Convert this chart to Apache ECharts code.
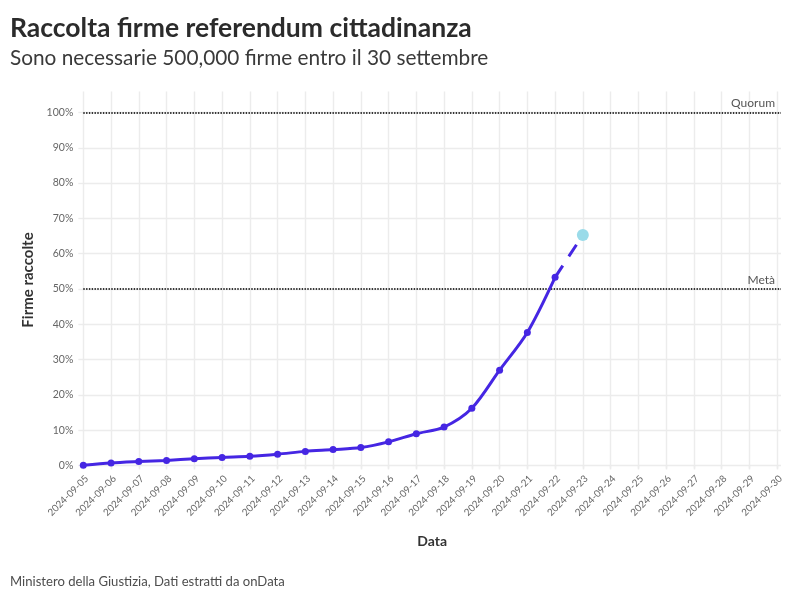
<!DOCTYPE html>
<html><head><meta charset="utf-8">
<style>html,body{margin:0;padding:0;background:#fff}#c{width:800px;height:600px}</style>
<script src="https://cdn.jsdelivr.net/npm/echarts@6/dist/echarts.min.js"></script>
</head><body><div id="c"></div>
<script>
const titleText = 'Raccolta firme referendum cittadinanza';
const subtitleText = 'Sono necessarie 500,000 firme entro il 30 settembre';
const captionText = 'Ministero della Giustizia, Dati estratti da onData';
const dates = ['2024-09-05','2024-09-06','2024-09-07','2024-09-08','2024-09-09','2024-09-10','2024-09-11','2024-09-12','2024-09-13','2024-09-14','2024-09-15','2024-09-16','2024-09-17','2024-09-18','2024-09-19','2024-09-20','2024-09-21','2024-09-22','2024-09-23','2024-09-24','2024-09-25','2024-09-26','2024-09-27','2024-09-28','2024-09-29','2024-09-30'];
const collected = [0.1,0.7,1.1,1.45,1.9,2.3,2.6,3.2,4.0,4.5,5.1,6.7,9.0,10.9,16.2,27.0,37.7,53.3];
const projected = [53.3,65.3];
const yTicks = [0,10,20,30,40,50,60,70,80,90,100];
const refLines = [{name:'Metà',value:50},{name:'Quorum',value:100}];
const font = 'Lato';
const grid = '#ececec';
const chart = echarts.init(document.getElementById('c'));
const dayIndex = dates.map((d,i)=>i);
chart.setOption({
  animation:false,
  backgroundColor:'#fff',
  textStyle:{fontFamily:font},
  title:[
    {text:titleText,left:5,top:10,textStyle:{fontFamily:font,fontSize:26.5,fontWeight:'bold',color:'#2b2b2b'}},
    {text:subtitleText,left:5,top:43,textStyle:{fontFamily:font,fontSize:20.8,fontWeight:'normal',color:'#3a3a3a'}},
    {text:captionText,left:5,top:570,textStyle:{fontFamily:font,fontSize:13.1,fontWeight:'normal',color:'#4d4d4d'}}
  ],
  grid:{left:83.3,top:91.5,width:697.7,height:377,containLabel:false},
  xAxis:{
    type:'value',min:0,max:25.14,
    name:'Data',nameLocation:'middle',nameGap:66,
    nameTextStyle:{fontFamily:font,fontSize:14,fontWeight:'bold',color:'#333'},
    axisLine:{show:false},
    axisTick:{show:true,length:4,lineStyle:{color:grid,width:1.4},customValues:dayIndex},
    splitLine:{show:true,lineStyle:{color:grid,width:1.4}},
    minorSplitLine:{show:false},
    axisLabel:{rotate:45,fontSize:9.8,color:'#666',margin:5,verticalAlign:'top',customValues:dayIndex,
      formatter:v=>dates[v]||''}
  },
  yAxis:{
    type:'value',min:-0.85,max:105.95,
    name:'Firme raccolte',nameLocation:'middle',nameGap:47,
    nameTextStyle:{fontFamily:font,fontSize:15,fontWeight:'bold',color:'#333'},
    axisLine:{show:false},
    axisTick:{show:true,length:5,lineStyle:{color:grid,width:1.4},customValues:yTicks},
    splitLine:{show:true,lineStyle:{color:grid,width:1.4}},
    axisLabel:{fontSize:10.5,color:'#666',margin:10,customValues:yTicks,formatter:v=>v+'%'}
  },
  series:[
    {type:'line',name:'Firme',data:collected.map((v,i)=>[i,v]),smooth:0.3,clip:false,
     symbol:'circle',symbolSize:7,z:5,
     lineStyle:{color:'#4526e3',width:3},itemStyle:{color:'#4526e3'},
     markLine:{silent:true,symbol:'none',animation:false,
       lineStyle:{color:'#333',type:[1.4,1.4],width:2,opacity:1},
       label:{position:'insideEndTop',fontFamily:font,fontSize:12,color:'#555',distance:[6,3],formatter:'{b}'},
       data:refLines.map(r=>({name:r.name,yAxis:r.value}))}},
    {type:'line',name:'Proiezione',data:projected.map((v,i)=>[i+collected.length-1,v]),clip:false,
     symbol:'none',z:4,lineStyle:{color:'#4526e3',width:3,type:[14,11]}},
    {type:'scatter',name:'Stima',data:[[collected.length,projected[1]]],symbolSize:12,z:6,
     itemStyle:{color:'#9adbe9',opacity:1}}
  ]
});
</script></body></html>
